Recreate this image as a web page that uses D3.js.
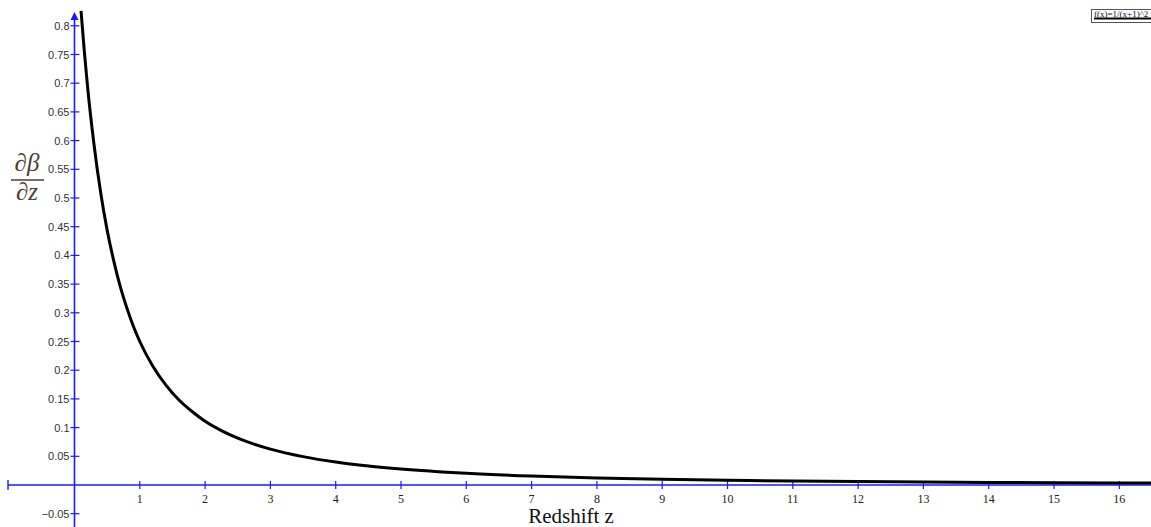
<!DOCTYPE html>
<html>
<head>
<meta charset="utf-8">
<script src="https://cdn.jsdelivr.net/npm/d3@7"></script>
<style>
html,body{margin:0;padding:0;background:#fff;overflow:hidden;}
svg{display:block;}
</style>
</head>
<body>
<svg id="chart" width="1151" height="527"></svg>
<script>
// Data
const redshift = [0.1,0.15,0.2,0.3,0.4,0.5,0.6,0.7,0.8,0.9,1,1.2,1.4,1.6,1.8,2,2.25,2.5,2.75,3,3.5,4,4.5,5,6,7,8,9,10,11,12,13,14,15,16,16.5];
const dBetaDz = [0.826,0.756,0.694,0.592,0.510,0.444,0.391,0.346,0.309,0.277,0.25,0.207,0.174,0.148,0.128,0.111,0.0947,0.0816,0.0711,0.0625,0.0494,0.04,0.0331,0.0278,0.0204,0.0156,0.0123,0.01,0.0083,0.0069,0.0059,0.0051,0.0044,0.0039,0.0035,0.0033];
const xTicks = [1,2,3,4,5,6,7,8,9,10,11,12,13,14,15,16];
const yTicks = [-0.05,0.05,0.1,0.15,0.2,0.25,0.3,0.35,0.4,0.45,0.5,0.55,0.6,0.65,0.7,0.75,0.8];
const legendLabel = "f(x)=1/(x+1)^2";
const xTitle = "Redshift z";

const svg = d3.select("#chart");
const W = 1151, H = 527;
const x = d3.scaleLinear().domain([0, 16.485]).range([74.5, 1151]);
const y = d3.scaleLinear().domain([0, 0.8]).range([485, 25.8]);
const blue = "#1a1aff";

// x axis line
svg.append("line").attr("x1", 8).attr("x2", W).attr("y1", y(0)).attr("y2", y(0))
  .attr("stroke", blue).attr("stroke-width", 1.6);
// left end tick on x axis
svg.append("line").attr("x1", 8).attr("x2", 8).attr("y1", y(0) - 5).attr("y2", y(0) + 5)
  .attr("stroke", blue).attr("stroke-width", 1.4);
// y axis line
svg.append("line").attr("x1", x(0)).attr("x2", x(0)).attr("y1", 16).attr("y2", H)
  .attr("stroke", blue).attr("stroke-width", 1.6);
// arrow head
svg.append("path")
  .attr("d", `M${x(0)-4},${20} L${x(0)},${12} L${x(0)+4},${20} Z`)
  .attr("fill", blue);

// x ticks
const xg = svg.append("g");
xTicks.forEach(t => {
  xg.append("line").attr("x1", x(t)).attr("x2", x(t)).attr("y1", y(0) - 4).attr("y2", y(0) + 4)
    .attr("stroke", blue).attr("stroke-width", 1.2);
  xg.append("text").attr("x", x(t)).attr("y", y(0) + 18)
    .attr("text-anchor", "middle").attr("font-family", "Liberation Serif, serif")
    .attr("font-size", 12).attr("fill", "#222").text(t);
});

// y ticks
const yg = svg.append("g");
yTicks.forEach(t => {
  yg.append("line").attr("x1", x(0) - 4).attr("x2", x(0) + 5).attr("y1", y(t)).attr("y2", y(t))
    .attr("stroke", blue).attr("stroke-width", 1.2);
  yg.append("text").attr("x", x(0) - 5).attr("y", y(t) + 4)
    .attr("text-anchor", "end").attr("font-family", "Liberation Sans, Arial, sans-serif")
    .attr("font-size", 11).attr("fill", "#333").text(d3.format("")(t));
});

// curve
const pts = redshift.map((z, i) => [z, dBetaDz[i]]);
const line = d3.line().x(d => x(d[0])).y(d => y(d[1])).curve(d3.curveMonotoneX);
svg.append("path").datum(pts).attr("d", line)
  .attr("fill", "none").attr("stroke", "#000").attr("stroke-width", 3);

// x title
svg.append("text").attr("x", 571).attr("y", 523).attr("text-anchor", "middle")
  .attr("font-family", "Liberation Serif, Times New Roman, serif").attr("font-size", 21)
  .attr("fill", "#111").text(xTitle);

// y title: fraction
const yt = svg.append("g").attr("fill", "#4a3f33");
yt.append("text").attr("x", 27).attr("y", 171).attr("text-anchor", "middle")
  .attr("font-family", "Liberation Serif, serif").attr("font-style", "italic")
  .attr("font-size", 25).text("∂β");
yt.append("line").attr("x1", 11).attr("x2", 44).attr("y1", 180).attr("y2", 180)
  .attr("stroke", "#4a3f33").attr("stroke-width", 1.6);
yt.append("text").attr("x", 27).attr("y", 200).attr("text-anchor", "middle")
  .attr("font-family", "Liberation Serif, serif").attr("font-style", "italic")
  .attr("font-size", 25).text("∂z");

// legend
const lg = svg.append("g");
lg.append("rect").attr("x", 1091.5).attr("y", 9.5).attr("width", 70).attr("height", 13)
  .attr("fill", "#fff").attr("stroke", "#555").attr("stroke-width", 1);
lg.append("text").attr("x", 1094).attr("y", 16.5).attr("font-family", "Liberation Serif, serif")
  .attr("font-size", 9).attr("fill", "#111").text(legendLabel);
lg.append("line").attr("x1", 1094).attr("x2", W).attr("y1", 18.5).attr("y2", 18.5)
  .attr("stroke", "#000").attr("stroke-width", 2);
</script>
</body>
</html>
